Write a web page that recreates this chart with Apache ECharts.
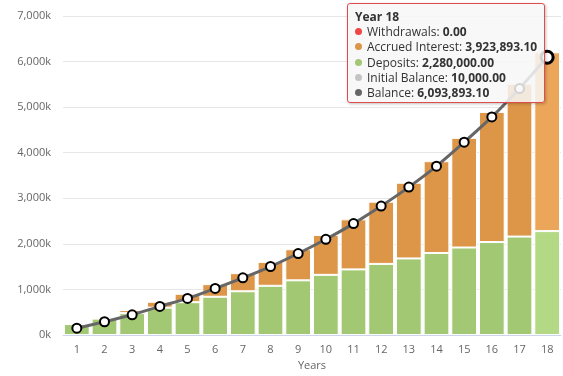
<!DOCTYPE html>
<html>
<head>
<meta charset="utf-8">
<script src="https://cdn.jsdelivr.net/npm/echarts@6/dist/echarts.min.js"></script>
<style>
  html, body { margin: 0; padding: 0; background: #fff; }
  #chart { width: 563px; height: 376px; }
</style>
</head>
<body>
<div id="chart"></div>
<script>
// datos (año 1..18)
const years = ['1', '2', '3', '4', '5', '6', '7', '8', '9', '10', '11', '12', '13', '14', '15', '16', '17', '18'];
const deposits = [240000, 360000, 480000, 600000, 720000, 840000, 960000, 1080000, 1200000, 1320000,
  1440000, 1560000, 1680000, 1800000, 1920000, 2040000, 2160000, 2280000];
const interest = [5000, 18000, 67000, 129000, 184000, 276000, 397000, 524000, 682000, 875000,
  1098000, 1366000, 1661000, 2014000, 2406000, 2855000, 3354000, 3923893.10];
const balance = [150000, 291000, 444000, 628000, 803000, 1022000, 1254000, 1503000, 1788000, 2100000,
  2444000, 2829000, 3245000, 3705000, 4230000, 4785000, 5411000, 6093893.10];
const withdrawals = [0, 0, 0, 0, 0, 0, 0, 0, 0, 0, 0, 0, 0, 0, 0, 0, 0, 0];
const initialBalance = [10000, 10000, 10000, 10000, 10000, 10000, 10000, 10000, 10000, 10000,
  10000, 10000, 10000, 10000, 10000, 10000, 10000, 10000];

const hoverIndex = 17;
const FONT = '"Open Sans", sans-serif';

const chart = echarts.init(document.getElementById('chart'));

const money = v => v.toLocaleString('en-US', { minimumFractionDigits: 2, maximumFractionDigits: 2 });
const dot = c => `<span style="display:inline-block;width:7px;height:7px;border-radius:50%;background:${c};margin-right:5px;vertical-align:1px"></span>`;

// barras: el punto activo se pinta más claro
const barData = (values, color, light) => values.map((v, i) =>
  i === hoverIndex ? { value: v, itemStyle: { color: light } } : { value: v, itemStyle: { color } });

const lineData = balance.map((v, i) =>
  i === hoverIndex
    ? { value: v, symbolSize: 12, itemStyle: { borderWidth: 3, borderColor: '#000' } }
    : v);

const options = {
  animation: false,
  textStyle: { fontFamily: FONT },
  grid: { left: 63, right: 2, top: 16, bottom: 40 },
  tooltip: {
    trigger: 'item',
    alwaysShowContent: true,
    position: [347, 3],
    backgroundColor: 'rgba(247,247,247,0.85)',
    borderColor: '#e24b4b',
    borderWidth: 1,
    borderRadius: 3,
    padding: [5, 7, 2, 7],
    extraCssText: 'box-shadow:1px 1px 3px rgba(0,0,0,0.25);line-height:15.2px;',
    textStyle: { fontFamily: FONT, fontSize: 12, color: '#333' },
    formatter: function (p) {
      const i = p.dataIndex;
      return `<div style="font-weight:bold">Year ${years[i]}</div>` +
        `${dot('#f04646')}Withdrawals: <b>${money(withdrawals[i])}</b><br/>` +
        `${dot('#dd9548')}Accrued Interest: <b>${money(interest[i])}</b><br/>` +
        `${dot('#a3c873')}Deposits: <b>${money(deposits[i])}</b><br/>` +
        `${dot('#c4c4c4')}Initial Balance: <b>${money(initialBalance[i])}</b><br/>` +
        `${dot('#666666')}Balance: <b>${money(balance[i])}</b>`;
    }
  },
  xAxis: {
    type: 'category',
    data: years,
    name: 'Years',
    nameLocation: 'middle',
    nameGap: 25,
    nameTextStyle: { color: '#666', fontSize: 11, fontFamily: FONT },
    axisLine: { lineStyle: { color: '#ccd6eb' } },
    axisTick: { show: false },
    axisLabel: { color: '#666', fontSize: 11, margin: 9, fontFamily: FONT }
  },
  yAxis: {
    type: 'value',
    min: 0,
    max: 7000000,
    interval: 1000000,
    axisLine: { show: false },
    axisTick: { show: false },
    splitLine: { lineStyle: { color: '#e6e6e6' } },
    axisLabel: {
      color: '#666',
      fontSize: 11,
      margin: 12,
      fontFamily: FONT,
      formatter: v => (v / 1000).toLocaleString('en-US') + 'k'
    }
  },
  series: [
    {
      name: 'Deposits',
      type: 'bar',
      stack: 'total',
      barCategoryGap: '7%',
      itemStyle: { borderColor: '#fff', borderWidth: 1 },
      emphasis: { disabled: true },
      data: barData(deposits, '#a3c873', '#b3d985')
    },
    {
      name: 'Accrued Interest',
      type: 'bar',
      stack: 'total',
      barCategoryGap: '7%',
      itemStyle: { borderColor: '#fff', borderWidth: 1 },
      emphasis: { disabled: true },
      data: barData(interest, '#dd9548', '#eba65a')
    },
    {
      name: 'Balance',
      type: 'line',
      smooth: 0.25,
      symbol: 'circle',
      symbolSize: 9,
      z: 5,
      lineStyle: { color: '#666', width: 3 },
      itemStyle: { color: '#fff', borderColor: '#000', borderWidth: 2 },
      emphasis: { disabled: true },
      data: lineData
    }
  ]
};

chart.setOption(options);
chart.dispatchAction({ type: 'showTip', seriesIndex: 2, dataIndex: hoverIndex });
</script>
</body>
</html>
